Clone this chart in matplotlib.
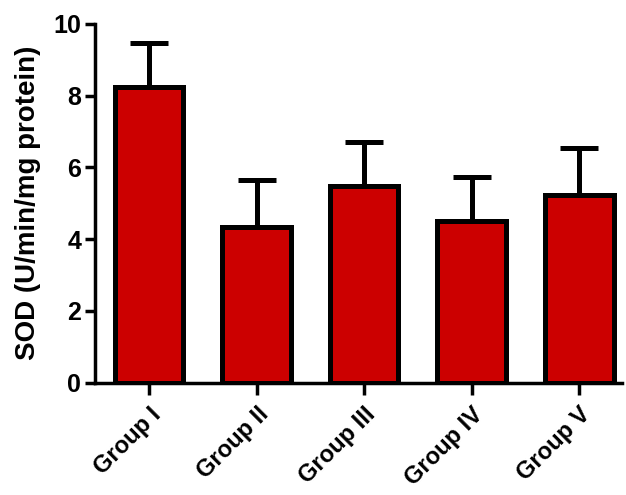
import matplotlib
matplotlib.use("Agg")
import matplotlib.pyplot as plt

plt.rcParams['font.family'] = ['Liberation Sans', 'DejaVu Sans']
plt.rcParams['font.weight'] = 'bold'

groups = ["Group I", "Group II", "Group III", "Group IV", "Group V"]
sod_mean = [8.25, 4.33, 5.47, 4.50, 5.24]
sod_sem = [1.20, 1.32, 1.23, 1.23, 1.29]

fig = plt.figure(figsize=(6.26, 4.95), dpi=100)
ax = fig.add_axes([0.152, 0.227, 0.842, 0.725])

x = range(len(groups))
ax.errorbar(x, sod_mean, yerr=[[0] * len(groups), sod_sem], fmt="none",
            ecolor="black", elinewidth=3.6, capsize=14, capthick=3.6, zorder=1)
ax.bar(x, sod_mean, width=0.64, color="#cc0000", edgecolor="black",
       linewidth=3.6, zorder=2)

ax.set_xlim(-0.5, 4.4)
ax.set_ylim(0, 10)
ax.set_yticks([0, 2, 4, 6, 8, 10])
ax.set_xticks(list(x))
ax.set_xticklabels(groups, rotation=45, ha="right", rotation_mode="anchor",
                   fontsize=17, fontweight="bold")
ax.tick_params(axis="y", labelsize=18, width=2.5, length=7, pad=3)
ax.tick_params(axis="x", width=2.5, length=8.5, pad=6)
for lab in ax.get_yticklabels():
    lab.set_fontweight("bold")

for side in ["top", "right"]:
    ax.spines[side].set_visible(False)
for side in ["left", "bottom"]:
    ax.spines[side].set_linewidth(2.5)

ax.set_ylabel("SOD (U/min/mg protein)", fontsize=20, fontweight="bold", labelpad=9)

fig.savefig("out.png", dpi=100)
